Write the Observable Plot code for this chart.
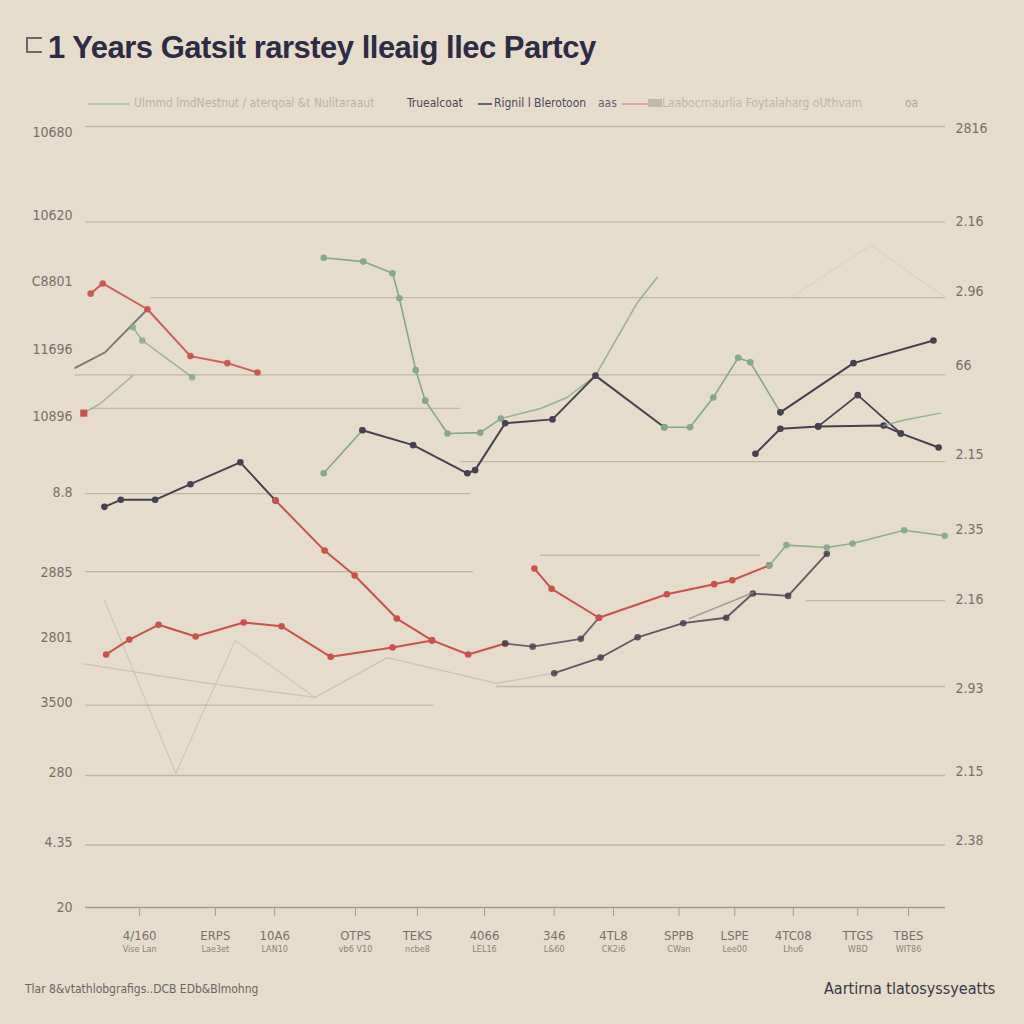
<!DOCTYPE html>
<html><head><meta charset="utf-8">
<script src="https://cdn.jsdelivr.net/npm/d3@7"></script>
<script src="https://cdn.jsdelivr.net/npm/@observablehq/plot@0.6"></script>
<style>
body{margin:0;background:#e5dccb;width:1024px;height:1024px;position:relative;overflow:hidden;font-family:"Liberation Sans",Arial,sans-serif}
#title{position:absolute;left:26px;top:30px;font-size:31px;font-weight:bold;color:#2e2b45;letter-spacing:-0.5px;white-space:nowrap}
#title .ico{display:inline-block;width:14px;height:12px;border:2px solid #6d6870;border-right:none;margin-right:6px;vertical-align:5px}
.lg{position:absolute;top:96px;font-size:12px;white-space:nowrap;font-family:"Liberation Sans Narrow","DejaVu Sans Condensed",sans-serif}
.sw{position:absolute;top:103px;height:0;border-top:2px solid}
#chart{position:absolute;left:0;top:110px}
#foot1{position:absolute;left:25px;top:982px;font-size:12px;color:#6b665f;font-family:"Liberation Sans Narrow","DejaVu Sans Condensed",sans-serif}
#foot2{position:absolute;left:824px;top:979px;font-size:16px;color:#3a3845;font-family:"Liberation Sans Narrow","DejaVu Sans Condensed",sans-serif}
</style></head>
<body>
<div id="title"><span class="ico"></span>1 Years Gatsit rarstey lleaig llec Partcy</div>
<span class="sw" style="left:88px;width:42px;border-color:#b9c4b0"></span>
<span class="lg" style="left:134px;color:#bdb3a4">Ulmmd lmdNestnut / aterqoal &amp;t Nulitaraaut</span>
<span class="lg" style="left:407px;color:#4c4754">Truealcoat</span>
<span class="sw" style="left:478px;width:14px;border-color:#6a6470"></span>
<span class="lg" style="left:494px;color:#4c4754">Rignil l Blerotoon</span>
<span class="lg" style="left:598px;color:#6a6470">aas</span>
<span class="sw" style="left:622px;width:28px;border-color:#d9a3a0"></span>
<span class="sw" style="left:648px;width:14px;top:99px;border-top:8px solid #c2b8ab"></span>
<span class="lg" style="left:662px;color:#c0b6a8">Laabocrnaurlia Foytalaharg oUthvam</span>
<span class="lg" style="left:905px;color:#b0a698">oa</span>
<div id="chart"></div>
<div id="foot1">Tlar 8&amp;vtathlobgrafigs..DCB EDb&amp;Blmohng</div>
<div id="foot2">Aartirna tlatosyssyeatts</div>
<script>
// ---- tick labels ----
const leftTickVals = [99.2, 88.6, 80.2, 71.4, 62.9, 53.1, 42.9, 34.6, 26.2, 17.3, 8.3, 0];
const leftLabels = ["10680", "10620", "C8801", "11696", "10896", "8.8", "2885", "2801", "3500", "280", "4.35", "20"];
const rightTickVals = [99.7, 87.8, 78.9, 69.4, 58.0, 48.4, 39.4, 28.0, 17.4, 8.6];
const rightLabels = ["2816", "2.16", "2.96", "66", "2.15", "2.35", "2.16", "2.93", "2.15", "2.38"];
const xTickVals = [6.3, 15.1, 22.0, 31.4, 38.6, 46.4, 54.5, 61.4, 69.0, 75.5, 82.3, 89.8, 95.7];
const xLabels = ["4/160", "ERPS", "10A6", "OTPS", "TEKS", "4066", "346", "4TL8", "SPPB", "LSPE", "4TC08", "TTGS", "TBES"];
const xSubLabels = ["Vise Lan", "Lae3et", "LAN10", "vb6 V10", "ncbe8", "LEL16", "L&60", "CK2i6", "CWan", "Lee00", "Lhu6", "WBD", "WIT86"];

// ---- grid lines (value, from, to) ----
const gridY = [100, 87.8, 78.1, 68.2, 63.9, 57.1, 53.0, 45.1, 43.0, 39.3, 28.3, 25.9, 16.9, 8.0, 0];
const gridFrom = [0, 0, 7.6, -1.2, 0.6, 43.6, 0, 52.9, 0, 83.8, 47.8, 0, 0, 0, 0];
const gridTo = [100, 100, 100, 100, 43.6, 100, 44.8, 78.5, 45.1, 100, 100, 40.5, 100, 100, 100];

// ---- series values [x, y] ----
const darkA = [[2.2,51.3],[4.1,52.2],[8.1,52.2],[12.2,54.2],[18.0,57.0],[22.1,52.1]];
const redFall = [[22.1,52.1],[27.8,45.7],[31.3,42.5],[36.2,37.0],[40.3,34.2]];
const redLow = [[2.4,32.4],[5.1,34.3],[8.5,36.2],[12.8,34.7],[18.4,36.5],[22.8,36.0],[28.5,32.1],[35.7,33.3],[40.3,34.2],[44.5,32.4],[48.8,33.8]];
const darkLow = [[48.8,33.8],[52.0,33.4],[57.6,34.4],[59.7,37.1]];
const redRight = [[52.2,43.4],[54.2,40.8],[59.7,37.1],[67.6,40.1],[73.1,41.4],[75.2,41.9],[79.5,43.8]];
const darkRise = [[54.5,30.0],[59.9,32.0],[64.2,34.6],[69.5,36.4],[74.5,37.1],[77.6,40.2],[81.7,39.9],[86.2,45.3]];
const grayRise = [[70.2,37.0],[77.6,40.3]];
const greenRight = [[79.5,43.8],[81.5,46.4],[86.2,46.1],[89.2,46.6],[95.2,48.3],[99.9,47.6]];
const greenTop = [[27.7,83.2],[32.3,82.7],[35.7,81.2],[36.5,78.0],[38.4,68.8],[39.5,64.9],[42.1,60.7],[45.9,60.8],[48.3,62.6]];
const greenMid = [[27.7,55.6],[32.2,61.1]];
const darkMid = [[32.2,61.1],[38.1,59.2],[44.4,55.6],[45.3,56.0],[48.8,62.0],[54.3,62.5],[59.3,68.1],[67.3,61.5]];
const greenWave = [[67.3,61.5],[70.3,61.5],[73.0,65.3],[75.9,70.4],[77.3,69.8],[80.8,63.4]];
const darkEnd = [[80.8,63.4],[89.3,69.7],[98.6,72.6]];
const greenClimb = [[48.3,62.6],[52.9,63.9],[56.0,65.3],[59.3,68.1],[64.2,77.5],[66.5,80.7]];
const darkLowRight = [[77.9,58.1],[80.8,61.3],[85.2,61.6],[92.8,61.7],[94.8,60.7],[99.2,58.9]];
const darkPeak = [[85.2,61.6],[89.8,65.6],[94.8,60.7]];
const greenTail = [[92.8,61.7],[95.1,62.4],[99.4,63.3]];
const redTop = [[0.6,78.6],[2.0,79.9],[7.2,76.6],[12.2,70.6],[16.5,69.7],[20.0,68.5]];
const grayLeft = [[-1.2,69.1],[2.3,71.1],[7.2,76.6]];
const greenLeft = [[5.5,74.3],[6.6,72.6],[12.4,67.9]];
const greenLeft2 = [[-0.2,63.3],[1.7,64.5],[5.5,68.1]];
const faintA = [[-0.2,31.2],[13.7,28.8],[26.7,26.9],[35.1,32.0],[47.8,28.7],[54.5,30.0]];
const faintB = [[2.2,39.3],[10.5,17.2],[17.4,34.2],[26.7,26.9]];
const faintC = [[82.0,78.1],[91.3,84.8],[100,78.1]];

const RED = "#c9524b", DARK = "#46414f", GREEN = "#86a888", GRAY = "#8f8a86", FAINT = "#b9bcaa";

const series = [
  {d: faintA, c: FAINT, w: 1.3, o: 0.7, dot: false},
  {d: faintB, c: FAINT, w: 1.2, o: 0.6, dot: false},
  {d: faintC, c: "#d8cfc1", w: 1.2, o: 0.8, dot: false},
  {d: grayLeft, c: "#6e6a66", w: 1.8, o: 0.9, dot: false},
  {d: greenLeft, c: GREEN, w: 1.5, o: 0.8, dot: true},
  {d: greenLeft2, c: GREEN, w: 1.5, o: 0.7, dot: false},
  {d: redTop, c: RED, w: 2, o: 0.9, dot: true},
  {d: greenTop, c: GREEN, w: 1.6, o: 1, dot: true},
  {d: greenClimb, c: GREEN, w: 1.5, o: 0.8, dot: false},
  {d: greenMid, c: GREEN, w: 1.6, o: 1, dot: true},
  {d: darkMid, c: DARK, w: 2, o: 1, dot: true},
  {d: greenWave, c: GREEN, w: 1.6, o: 1, dot: true},
  {d: darkEnd, c: DARK, w: 2, o: 1, dot: true},
  {d: darkLowRight, c: DARK, w: 2, o: 1, dot: true},
  {d: darkPeak, c: DARK, w: 1.8, o: 1, dot: true},
  {d: greenTail, c: GREEN, w: 1.5, o: 0.8, dot: false},
  {d: darkA, c: DARK, w: 2, o: 1, dot: true},
  {d: redFall, c: RED, w: 2, o: 1, dot: true},
  {d: redLow, c: RED, w: 2, o: 1, dot: true},
  {d: darkLow, c: DARK, w: 1.8, o: 0.8, dot: true},
  {d: redRight, c: RED, w: 2, o: 1, dot: true},
  {d: darkRise, c: DARK, w: 1.8, o: 0.85, dot: true},
  {d: grayRise, c: GRAY, w: 1.4, o: 0.8, dot: false},
  {d: greenRight, c: GREEN, w: 1.6, o: 0.9, dot: true},
];

const leftMap = new Map(leftTickVals.map((v, i) => [v, leftLabels[i]]));
const rightMap = new Map(rightTickVals.map((v, i) => [v, rightLabels[i]]));
const xMap = new Map(xTickVals.map((v, i) => [v, xLabels[i]]));
const gridRows = gridY.map((y, i) => ({y, x1: gridFrom[i], x2: gridTo[i]}));
const subRows = xTickVals.map((x, i) => ({x, t: xSubLabels[i]}));

const marks = [
  Plot.ruleY(gridRows, {y: "y", x1: "x1", x2: "x2", stroke: d => d.y === 0 ? "#a59d92" : "#c2b8a9", strokeWidth: 1.3}),
  Plot.axisY({anchor: "left", ticks: leftTickVals, tickFormat: d => leftMap.get(d), tickSize: 0, tickPadding: 13, label: null, fontSize: 14, fill: "#77716a"}),
  Plot.axisY({anchor: "right", ticks: rightTickVals, tickFormat: d => rightMap.get(d), tickSize: 0, tickPadding: 10, label: null, fontSize: 14, fill: "#77716a"}),
  Plot.axisX({ticks: xTickVals, tickFormat: d => xMap.get(d), tickSize: 9, tickPadding: 14, label: null, fontSize: 13, fill: "#77716a", stroke: "#a59d92"}),
  Plot.text(subRows, {x: "x", y: () => 0, text: "t", dy: 42, fontSize: 9, fill: "#8a847b"}),
];
for (const s of series) {
  marks.push(Plot.line(s.d, {x: d => d[0], y: d => d[1], stroke: s.c, strokeWidth: s.w, strokeOpacity: s.o}));
  if (s.dot) marks.push(Plot.dot(s.d, {x: d => d[0], y: d => d[1], fill: s.c, r: 3.3, fillOpacity: s.o}));
}
marks.push(Plot.dot([greenLeft2[0]], {x: d => d[0], y: d => d[1], fill: RED, r: 4, symbol: "square"}));

const chart = Plot.plot({
  width: 1024, height: 860,
  marginLeft: 85, marginRight: 79, marginTop: 16, marginBottom: 63,
  x: {domain: [0, 100]},
  y: {domain: [0, 100]},
  style: {background: "transparent", fontFamily: "'Liberation Sans Narrow','DejaVu Sans Condensed',sans-serif"},
  marks
});
document.getElementById("chart").appendChild(chart);
</script>
</body></html>
